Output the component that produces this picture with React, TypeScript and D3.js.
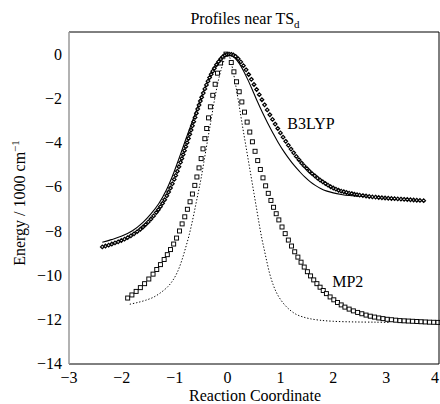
import React from "react";
import * as d3 from "d3";

// ---- data ----
const xTicks = [-3, -2, -1, 0, 1, 2, 3, 4];
const yTicks = [0, -2, -4, -6, -8, -10, -12, -14];

// B3LYP fitted profile (solid line)
const b3lypLine: [number, number][] = [
  [-2.37, -8.5], [-2.2, -8.38], [-2.0, -8.22], [-1.8, -7.98], [-1.6, -7.6], [-1.45, -7.22],
  [-1.3, -6.75], [-1.16, -6.15], [-1.05, -5.55], [-0.95, -4.92], [-0.86, -4.32], [-0.78, -3.78],
  [-0.7, -3.25], [-0.62, -2.74], [-0.54, -2.22], [-0.46, -1.72], [-0.38, -1.25], [-0.3, -0.82],
  [-0.22, -0.47], [-0.14, -0.2], [-0.07, -0.05], [0, 0], [0.07, -0.05],
  [0.14, -0.18], [0.22, -0.42], [0.3, -0.75], [0.38, -1.14], [0.47, -1.62], [0.56, -2.12],
  [0.66, -2.64], [0.76, -3.12], [0.86, -3.57], [0.96, -4.0], [1.06, -4.38], [1.16, -4.72],
  [1.26, -5.03], [1.36, -5.3], [1.46, -5.55], [1.56, -5.76], [1.66, -5.93], [1.76, -6.07],
  [1.88, -6.19], [2.0, -6.27], [2.15, -6.34], [2.3, -6.39], [2.5, -6.42], [2.75, -6.45],
];

// B3LYP computed points (diamonds)
const b3lypPoints: [number, number][] = [
  [-2.37, -8.71], [-2.31, -8.67], [-2.25, -8.63], [-2.19, -8.58], [-2.13, -8.53], [-2.07, -8.48],
  [-2.01, -8.42], [-1.95, -8.36], [-1.89, -8.29], [-1.83, -8.21], [-1.77, -8.12], [-1.71, -8.02],
  [-1.65, -7.91], [-1.6, -7.81], [-1.55, -7.7], [-1.5, -7.58], [-1.45, -7.45], [-1.4, -7.31],
  [-1.35, -7.16], [-1.31, -7.03], [-1.27, -6.89], [-1.23, -6.74], [-1.19, -6.58], [-1.15, -6.4],
  [-1.115, -6.23], [-1.08, -6.05], [-1.045, -5.86], [-1.01, -5.66], [-0.98, -5.48], [-0.95, -5.29],
  [-0.92, -5.09], [-0.89, -4.89], [-0.865, -4.72], [-0.84, -4.54], [-0.815, -4.36], [-0.79, -4.18],
  [-0.765, -4.0], [-0.74, -3.81], [-0.715, -3.62], [-0.69, -3.43], [-0.665, -3.24], [-0.64, -3.05],
  [-0.615, -2.86], [-0.59, -2.67], [-0.565, -2.48], [-0.54, -2.3], [-0.515, -2.12], [-0.49, -1.95],
  [-0.46, -1.76], [-0.43, -1.57], [-0.4, -1.39], [-0.37, -1.22], [-0.34, -1.06], [-0.31, -0.91],
  [-0.28, -0.77], [-0.25, -0.64], [-0.21, -0.48], [-0.17, -0.34], [-0.13, -0.22], [-0.09, -0.12],
  [-0.05, -0.05], [-0.01, -0.01], [0.03, 0], [0.07, -0.01], [0.11, -0.04], [0.15, -0.1],
  [0.2, -0.21], [0.25, -0.35], [0.3, -0.52], [0.35, -0.71], [0.4, -0.92], [0.45, -1.14],
  [0.5, -1.37], [0.55, -1.6], [0.6, -1.83], [0.65, -2.06], [0.7, -2.29], [0.75, -2.52],
  [0.8, -2.74], [0.85, -2.95], [0.9, -3.16], [0.95, -3.36], [1.0, -3.56], [1.05, -3.75],
  [1.1, -3.94], [1.15, -4.12], [1.2, -4.29], [1.25, -4.46], [1.3, -4.62], [1.35, -4.77],
  [1.4, -4.92], [1.45, -5.05], [1.5, -5.17], [1.55, -5.29], [1.6, -5.4], [1.65, -5.5],
  [1.7, -5.6], [1.75, -5.69], [1.8, -5.77], [1.85, -5.85], [1.9, -5.92], [1.95, -5.99],
  [2.0, -6.05], [2.05, -6.1], [2.1, -6.15], [2.15, -6.19], [2.2, -6.22], [2.25, -6.25],
  [2.3, -6.28], [2.35, -6.3], [2.4, -6.33], [2.45, -6.35], [2.5, -6.37], [2.56, -6.39],
  [2.62, -6.41], [2.68, -6.43], [2.74, -6.45], [2.8, -6.46], [2.86, -6.48], [2.92, -6.49],
  [2.98, -6.5], [3.04, -6.51], [3.1, -6.52], [3.16, -6.53], [3.22, -6.54], [3.28, -6.55],
  [3.34, -6.56], [3.4, -6.57], [3.46, -6.58], [3.52, -6.59], [3.58, -6.6], [3.64, -6.61],
  [3.71, -6.62],
];

// MP2 fitted profile (dotted line)
const mp2Line: [number, number][] = [
  [-1.85, -11.3], [-1.7, -11.22], [-1.55, -11.12], [-1.4, -10.98], [-1.25, -10.75], [-1.12, -10.48],
  [-1.03, -10.2], [-0.95, -9.85], [-0.87, -9.35], [-0.8, -8.8], [-0.73, -8.2], [-0.66, -7.48],
  [-0.6, -6.78], [-0.55, -6.2], [-0.5, -5.6], [-0.45, -4.9], [-0.4, -4.2], [-0.35, -3.5],
  [-0.3, -2.8], [-0.25, -2.1], [-0.2, -1.48], [-0.15, -0.95], [-0.1, -0.52], [-0.05, -0.18],
  [-0.02, -0.03], [0.02, -0.05], [0.06, -0.3], [0.1, -0.72], [0.15, -1.35], [0.2, -2.05],
  [0.25, -2.78], [0.3, -3.5], [0.35, -4.2], [0.4, -4.9], [0.45, -5.6], [0.5, -6.3],
  [0.55, -7.0], [0.6, -7.7], [0.65, -8.35], [0.7, -8.9], [0.75, -9.45], [0.8, -9.95],
  [0.86, -10.4], [0.92, -10.75], [1.0, -11.08], [1.1, -11.38], [1.2, -11.6], [1.3, -11.76],
  [1.42, -11.87], [1.55, -11.95], [1.74, -12.02], [2.0, -12.07], [2.4, -12.1], [2.8, -12.11],
  [3.05, -12.12],
];

// MP2 computed points (squares)
const mp2Points: [number, number][] = [
  [-1.89, -11.02], [-1.81, -10.88], [-1.73, -10.72], [-1.65, -10.55], [-1.57, -10.37], [-1.49, -10.16],
  [-1.41, -9.94], [-1.34, -9.73], [-1.27, -9.51], [-1.2, -9.28], [-1.14, -9.06], [-1.08, -8.83],
  [-1.02, -8.58], [-0.965, -8.31], [-0.91, -7.99], [-0.86, -7.67], [-0.81, -7.35], [-0.76, -7.01],
  [-0.71, -6.67], [-0.665, -6.32], [-0.62, -5.93], [-0.58, -5.55], [-0.54, -5.14], [-0.5, -4.72],
  [-0.465, -4.28], [-0.43, -3.82], [-0.395, -3.36], [-0.36, -2.88], [-0.325, -2.38], [-0.28, -1.86],
  [-0.235, -1.36], [-0.19, -0.86], [-0.135, -0.4], [-0.03, 0.0], [0.07, -0.38], [0.12, -0.8],
  [0.17, -1.25], [0.22, -1.7], [0.27, -2.16], [0.32, -2.62], [0.37, -3.07], [0.42, -3.52],
  [0.47, -3.96], [0.52, -4.39], [0.57, -4.81], [0.62, -5.21], [0.67, -5.59], [0.72, -5.95],
  [0.77, -6.29], [0.82, -6.61], [0.87, -6.92], [0.92, -7.21], [0.97, -7.49], [1.03, -7.81],
  [1.09, -8.11], [1.15, -8.4], [1.21, -8.67], [1.27, -8.93], [1.33, -9.17], [1.39, -9.4],
  [1.45, -9.62], [1.51, -9.83], [1.57, -10.02], [1.63, -10.2], [1.69, -10.37], [1.75, -10.53],
  [1.81, -10.68], [1.87, -10.82], [1.94, -10.97], [2.01, -11.1], [2.08, -11.22], [2.15, -11.33],
  [2.22, -11.43], [2.3, -11.52], [2.38, -11.6], [2.46, -11.67], [2.54, -11.73], [2.62, -11.79],
  [2.7, -11.84], [2.78, -11.88], [2.86, -11.92], [2.94, -11.95], [3.02, -11.98], [3.1, -12.0],
  [3.18, -12.02], [3.26, -12.04], [3.34, -12.05], [3.42, -12.06], [3.5, -12.07], [3.58, -12.08],
  [3.66, -12.09], [3.74, -12.1], [3.82, -12.11], [3.9, -12.115], [3.98, -12.12],
];

const seriesLabels = [
  { text: "B3LYP", x: 1.13, y: -3.4 },
  { text: "MP2", x: 1.98, y: -10.5 },
];

const W = 440;
const H = 404;
const M = { left: 69, right: 439, top: 32, bottom: 364 };
const FONT = "'Liberation Serif', 'Times New Roman', serif";

export default function App() {
  const x = d3.scaleLinear().domain([-3, 4]).range([M.left, M.right]);
  const y = d3.scaleLinear().domain([-14, 1]).range([M.bottom, M.top]);
  const line = d3
    .line<[number, number]>()
    .x((d) => x(d[0]))
    .y((d) => y(d[1]))
    .curve(d3.curveCatmullRom.alpha(0.5));

  const dia = 1.8;
  const diamondPath = `M0,${-dia}L${dia},0L0,${dia}L${-dia},0Z`;
  const fmt = (t: number) => (t < 0 ? "\u2212" + Math.abs(t) : String(t));

  return (
    <svg
      width={W}
      height={H}
      style={{ position: "absolute", left: 0, top: 0, background: "#fff" }}
      fontFamily={FONT}
    >
      <rect x={0} y={0} width={W} height={H} fill="#fff" />
      {/* title */}
      <text x={245} y={24} textAnchor="middle" fontSize={16} fill="#000">
        Profiles near TS
        <tspan fontSize={11} dy={4}>d</tspan>
      </text>

      {/* curves */}
      <path d={line(b3lypLine) || ""} fill="none" stroke="#000" strokeWidth={1.1} />
      <path
        d={line(mp2Line) || ""}
        fill="none"
        stroke="#000"
        strokeWidth={1}
        strokeDasharray="1.3 1.9"
      />
      {mp2Points.map((d, i) => (
        <rect
          key={"s" + i}
          x={x(d[0]) - 2}
          y={y(d[1]) - 2}
          width={4}
          height={4}
          fill="#fff"
          stroke="#000"
          strokeWidth={0.95}
        />
      ))}
      {b3lypPoints.map((d, i) => (
        <path
          key={"d" + i}
          d={diamondPath}
          transform={`translate(${x(d[0])},${y(d[1])})`}
          fill="#fff"
          stroke="#000"
          strokeWidth={1.25}
        />
      ))}

      {/* series labels */}
      {seriesLabels.map((l) => (
        <text key={l.text} x={x(l.x)} y={y(l.y)} fontSize={16} fill="#000">
          {l.text}
        </text>
      ))}

      {/* frame */}
      <line x1={M.left} x2={M.right} y1={M.top} y2={M.top} stroke="#000" strokeWidth={1} />
      <line x1={M.left} x2={M.right} y1={M.bottom} y2={M.bottom} stroke="#000" strokeWidth={1} />
      <line x1={M.right} x2={M.right} y1={M.top} y2={M.bottom} stroke="#000" strokeWidth={1} />
      <line x1={M.left} x2={M.left} y1={M.top} y2={M.bottom} stroke="#999" strokeWidth={1.5} />

      {/* tick labels */}
      {xTicks.map((t) => {
        const px = Math.min(x(t), W - 5);
        return (
          <text key={"x" + t} x={px} y={383} textAnchor="middle" fontSize={16} fill="#000">
            {fmt(t)}
          </text>
        );
      })}
      {yTicks.map((t) => (
        <text
          key={"y" + t}
          x={62}
          y={y(t)}
          dy="0.34em"
          textAnchor="end"
          fontSize={16}
          fill="#000"
        >
          {fmt(t)}
        </text>
      ))}

      {/* axis titles */}
      <text x={255} y={401} textAnchor="middle" fontSize={16} fill="#000">
        Reaction Coordinate
      </text>
      <text
        transform={`translate(25,203) rotate(-90)`}
        textAnchor="middle"
        fontSize={16}
        fill="#000"
      >
        Energy / 1000 cm
        <tspan fontSize={11} dy={-6}>{"\u22121"}</tspan>
      </text>
    </svg>
  );
}
